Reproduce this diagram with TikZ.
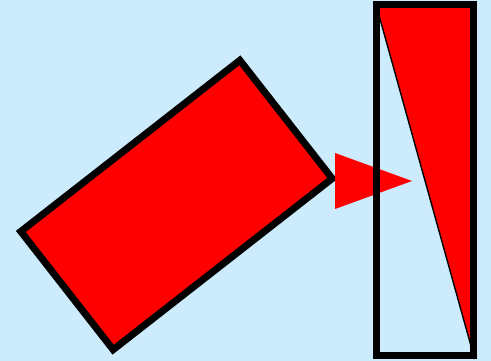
\documentclass[tikz,border=0pt]{standalone}
\usepackage{xcolor}
\usepackage{tikz}
\usetikzlibrary{positioning,calc}
\definecolor{SkyBg}{HTML}{CCEBFC}
\definecolor{PureRed}{HTML}{FF0000}

\begin{document}
\begin{tikzpicture}[x=1pt,y=-1pt,
          frame/.style={draw=black,line width=7pt,inner sep=0pt,outer sep=0pt}]
        \fill[SkyBg] (0,0) rectangle (491,361);
        \useasboundingbox (0,0) rectangle (491,361);

        % tilted block
        \node[frame, fill=PureRed, rotate=38,
          minimum width=278pt, minimum height=150pt]
        (block) at (176.5,205) {};

        % pointer head
        \coordinate (ptop) at (335,153);
        \coordinate (pbot) at (335,209);
        \coordinate (ptip) at (412,181);
        \fill[PureRed] (ptop) -- (ptip) -- (pbot) -- cycle;

        % tall panel with wedge
        \coordinate (pnw) at (376,4.5);
        \coordinate (pse) at (473.5,355);
        \fill[PureRed, draw=black, line width=1.4pt]
          (pnw) -- (pse |- pnw) -- (pse) -- cycle;
        \draw[black, line width=7pt] (pnw) rectangle (pse);
      \end{tikzpicture}
\end{document}
